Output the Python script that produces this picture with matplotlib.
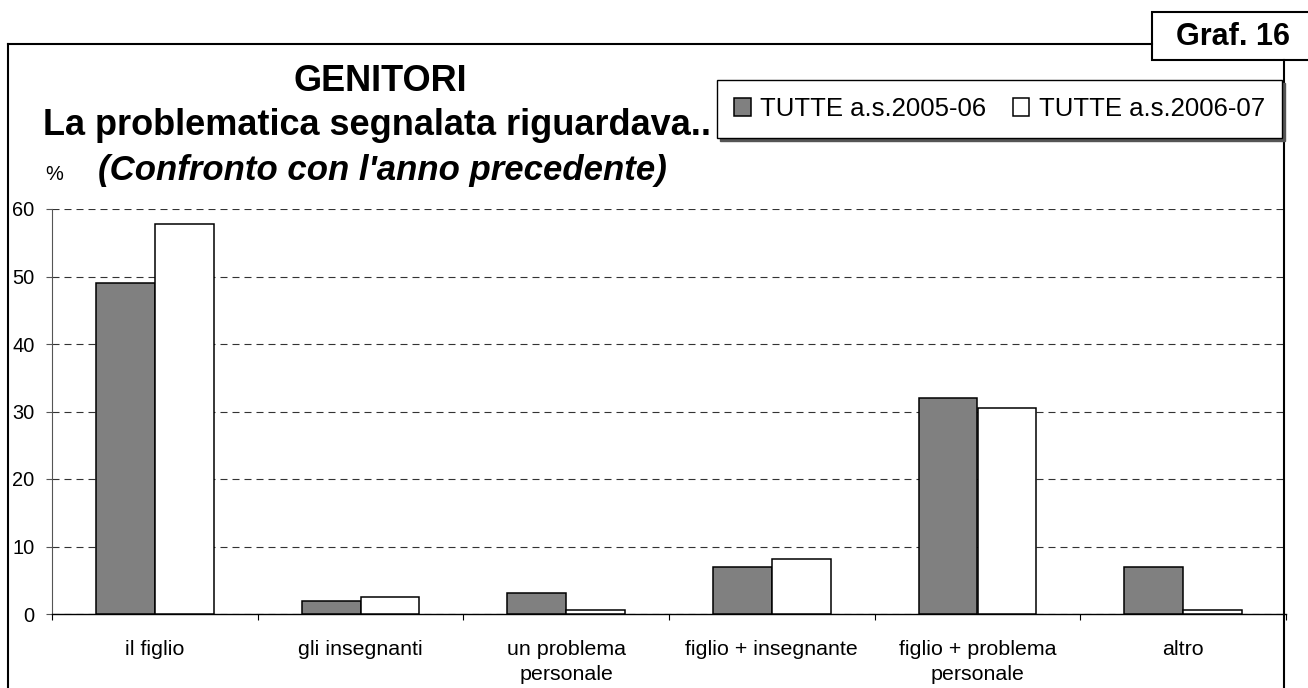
import matplotlib
matplotlib.use('Agg')
import matplotlib.pyplot as plt
from matplotlib.patches import Rectangle
from matplotlib.lines import Line2D
import numpy as np

categories = ['il figlio', 'gli insegnanti', 'un problema\npersonale',
              'figlio + insegnante', 'figlio + problema\npersonale', 'altro']
series_2005 = [49.0, 1.9, 3.1, 6.9, 32.0, 6.9]
series_2006 = [57.8, 2.5, 0.6, 8.1, 30.5, 0.6]
series_labels = ['TUTTE a.s.2005-06', 'TUTTE a.s.2006-07']
yticks = [0, 10, 20, 30, 40, 50, 60]

W, H = 1308, 688
plt.rcParams['font.family'] = ['Liberation Sans', 'DejaVu Sans']
fig = plt.figure(figsize=(W / 100, H / 100), dpi=100)
fig.patch.set_facecolor('white')


def fx(px):
    return px / W


def fy(py):
    return 1 - py / H


ax = fig.add_axes([fx(52), fy(614), fx(1286) - fx(52), fy(209) - fy(614)])
x = np.arange(len(categories))
w = 1 / 3.5
b1 = ax.bar(x - w / 2, series_2005, w, color='#808080', edgecolor='black',
            linewidth=1.1, label=series_labels[0], zorder=3)
b2 = ax.bar(x + w / 2, series_2006, w, color='white', edgecolor='black',
            linewidth=1.1, label=series_labels[1], zorder=3)
ax.set_xlim(-0.5, len(categories) - 0.5)
ax.set_ylim(0, 60)
ax.set_yticks(yticks)
ax.yaxis.grid(True, linestyle=(0, (6.3, 4.5)), color='#333333', linewidth=0.8)
ax.set_axisbelow(True)
ax.set_xticks(np.arange(-0.5, len(categories)), labels=[''] * (len(categories) + 1))
ax.set_xticks(x, labels=categories, minor=True)
for t in ax.get_xticklabels(minor=True):
    t.set_linespacing(1.45)
ax.tick_params(axis='x', which='major', direction='out', length=4.5, width=0.8, color='black')
ax.tick_params(axis='x', which='minor', length=0, pad=18.5, labelsize=15.4)
ax.tick_params(axis='y', direction='out', length=4.5, width=0.8, color='#555555',
               labelsize=14.4, pad=8)
for s in ['top', 'right']:
    ax.spines[s].set_visible(False)
ax.spines['left'].set_color('#555555')
ax.spines['left'].set_linewidth(0.8)
ax.spines['bottom'].set_color('black')
ax.spines['bottom'].set_linewidth(1.0)

leg = fig.legend(handles=[b1, b2], labels=series_labels, ncol=2, loc='upper left',
                 bbox_to_anchor=(fx(717), fy(80)), fontsize=18.5, frameon=True,
                 fancybox=False, edgecolor='black', framealpha=1,
                 borderpad=0.66, handlelength=0.66, handleheight=0.66,
                 handletextpad=0.36, columnspacing=1.02, borderaxespad=0,
                 shadow={'color': '#555555', 'alpha': 1})
leg.get_frame().set_linewidth(1.0)
leg.set_zorder(10)

# outer frame
lw = 1.5
fig.add_artist(Line2D([fx(8), fx(1152)], [fy(44), fy(44)], color='black', lw=lw))
fig.add_artist(Line2D([fx(8), fx(8)], [fy(44), fy(700)], color='black', lw=lw))
fig.add_artist(Line2D([fx(1284), fx(1284)], [fy(60), fy(700)], color='black', lw=lw))
fig.add_artist(Rectangle((fx(1152), fy(60)), fx(1340) - fx(1152), fy(12) - fy(60),
                         transform=fig.transFigure, facecolor='white',
                         edgecolor='black', linewidth=lw))
fig.text(fx(1233), fy(45), 'Graf. 16', fontsize=22, fontweight='bold',
         ha='center', va='baseline')

fig.text(fx(380), fy(91), 'GENITORI', fontsize=26, fontweight='bold',
         ha='center', va='baseline')
fig.text(fx(43), fy(135), 'La problematica segnalata riguardava..', fontsize=26,
         fontweight='bold', ha='left', va='baseline')
fig.text(fx(98), fy(180), "(Confronto con l'anno precedente)", fontsize=25,
         fontweight='bold', fontstyle='italic', ha='left', va='baseline')
fig.text(fx(45), fy(180), '%', fontsize=14.4, ha='left', va='baseline')

fig.savefig('out.png', dpi=100, facecolor='white')
